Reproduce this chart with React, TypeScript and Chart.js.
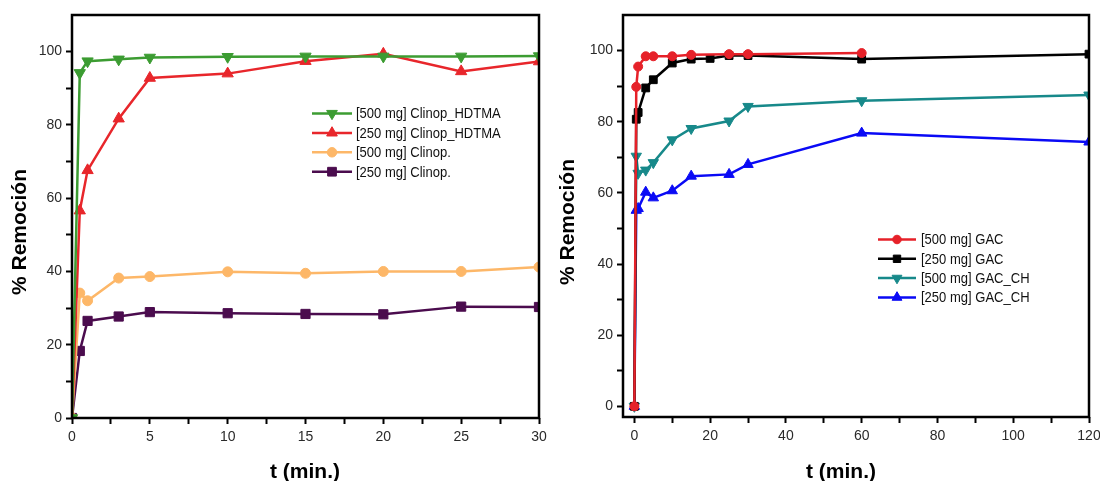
import React, { useEffect, useRef } from 'react';
import { Chart, registerables } from 'chart.js';

Chart.register(...registerables);

// ---------- Left panel data (Clinoptilolite) ----------
const leftTimes = [0, 0.5, 1, 3, 5, 10, 15, 20, 25, 30];
const clinopHdtma500 = [0, 94.2, 97.4, 97.9, 98.4, 98.6, 98.7, 98.7, 98.7, 98.8];
const clinopHdtma250 = [0, 56.6, 67.6, 81.7, 92.8, 94.0, 97.4, 99.4, 94.6, 97.3];
const clinop500 = [0, 34.1, 32.0, 38.2, 38.6, 39.9, 39.5, 40.0, 40.0, 41.2];
const clinop250 = [0, 18.3, 26.5, 27.7, 28.9, 28.6, 28.4, 28.3, 30.4, 30.3];

const leftXTicks = [0, 2.5, 5, 7.5, 10, 12.5, 15, 17.5, 20, 22.5, 25, 27.5, 30];
const leftXLabels = [0, 5, 10, 15, 20, 25, 30];

// ---------- Right panel data (GAC) ----------
const gac500Times = [0, 0.5, 1, 3, 5, 10, 15, 25, 30, 60];
const gac500 = [0, 89.8, 95.5, 98.4, 98.4, 98.4, 98.8, 99.0, 99.0, 99.3];
const gac250Times = [0, 0.5, 1, 3, 5, 10, 15, 20, 25, 30, 60, 120];
const gac250 = [0, 80.7, 82.6, 89.5, 91.8, 96.5, 97.6, 97.8, 98.6, 98.6, 97.6, 99.0];
const gacChTimes = [0, 0.5, 1, 3, 5, 10, 15, 25, 30, 60, 120];
const gacCh500 = [0, 70.3, 65.5, 66.4, 68.5, 74.9, 78.1, 80.2, 84.3, 85.9, 87.5];
const gacCh250 = [0, 55.1, 55.6, 60.2, 58.6, 60.6, 64.7, 65.2, 68.0, 76.8, 74.3];

const rightXTicks = [0, 10, 20, 30, 40, 50, 60, 70, 80, 90, 100, 110, 120];
const rightXLabels = [0, 20, 40, 60, 80, 100, 120];

const yTicks = [0, 10, 20, 30, 40, 50, 60, 70, 80, 90, 100];
const yLabels = [0, 20, 40, 60, 80, 100];

const yTitle = '% Remoción';
const xTitle = 't (min.)';

const FONT = '"Liberation Sans", Arial, Helvetica, sans-serif';

function pts(xs: number[], ys: number[]) {
  return xs.map((x, i) => ({ x, y: ys[i] }));
}

function drawMarker(ctx: CanvasRenderingContext2D, style: string, rot: number, x: number, y: number, r: number) {
  ctx.beginPath();
  if (style === 'circle') {
    ctx.arc(x, y, r, 0, Math.PI * 2);
  } else if (style === 'rect') {
    const s = r / Math.SQRT2;
    ctx.rect(x - s, y - s, 2 * s, 2 * s);
  } else {
    let a = (rot * Math.PI) / 180;
    ctx.moveTo(x + Math.sin(a) * r, y - Math.cos(a) * r);
    a += (2 * Math.PI) / 3;
    ctx.lineTo(x + Math.sin(a) * r, y - Math.cos(a) * r);
    a += (2 * Math.PI) / 3;
    ctx.lineTo(x + Math.sin(a) * r, y - Math.cos(a) * r);
    ctx.closePath();
  }
  ctx.fill();
  ctx.stroke();
}

const decorPlugin = {
  id: 'decor',
  afterDraw(chart: any, _args: any, opts: any) {
    const { ctx, chartArea: a } = chart;
    ctx.save();
    // frame
    ctx.lineWidth = 2.5;
    ctx.strokeStyle = '#000';
    ctx.strokeRect(a.left, a.top, a.right - a.left, a.bottom - a.top);
    // axis titles
    ctx.fillStyle = '#000';
    ctx.font = `bold 21px ${FONT}`;
    ctx.textAlign = 'center';
    ctx.textBaseline = 'alphabetic';
    ctx.fillText(opts.xTitle, opts.xTitleX, opts.xTitleY);
    ctx.save();
    ctx.translate(opts.yTitleX, opts.yTitleY);
    ctx.rotate(-Math.PI / 2);
    ctx.fillText(opts.yTitle, 0, 0);
    ctx.restore();
    // legend
    chart.data.datasets.forEach((ds: any, i: number) => {
      const y = opts.legendY + i * opts.legendRow;
      const x0 = opts.legendX;
      ctx.strokeStyle = ds.borderColor;
      ctx.fillStyle = ds.borderColor;
      ctx.lineWidth = 2.5;
      ctx.beginPath();
      ctx.moveTo(x0, y);
      ctx.lineTo(x0 + opts.legendLine, y);
      ctx.stroke();
      ctx.lineWidth = 1;
      drawMarker(ctx, ds.pointStyle, ds.pointRotation || 0, x0 + opts.legendLine / 2, y, ds.pointRadius * 0.95);
      ctx.fillStyle = '#111';
      ctx.font = `14px ${FONT}`;
      ctx.textAlign = 'left';
      ctx.textBaseline = 'middle';
      ctx.save();
      ctx.translate(x0 + opts.legendLine + opts.legendGap, y + 1);
      ctx.scale(0.93, 1);
      ctx.fillText(ds.label, 0, 0);
      ctx.restore();
    });
    ctx.restore();
  },
};

function makeDataset(label: string, data: any[], color: string, style: string, radius: number, rotation = 0) {
  return {
    label,
    data,
    borderColor: color,
    backgroundColor: color,
    pointBackgroundColor: color,
    pointBorderColor: color,
    pointBorderWidth: 1,
    pointStyle: style,
    pointRotation: rotation,
    pointRadius: radius,
    borderWidth: 2.5,
    tension: 0,
    fill: false,
  };
}

function makeConfig(p: any): any {
  return {
    type: 'line',
    data: { datasets: p.datasets },
    plugins: [decorPlugin],
    options: {
      animation: false,
      responsive: false,
      layout: { padding: { left: 0, right: p.padRight, top: p.padTop, bottom: 0 } },
      plugins: {
        legend: { display: false },
        tooltip: { enabled: false },
        decor: p.decor,
      },
      scales: {
        x: {
          type: 'linear',
          min: p.xMin,
          max: p.xMax,
          afterBuildTicks: (s: any) => {
            s.ticks = p.xTicks.map((v: number) => ({ value: v }));
          },
          afterFit: (s: any) => {
            s.height = p.xHeight;
            s.paddingLeft = 0;
            s.paddingRight = 0;
          },
          ticks: {
            autoSkip: false,
            maxRotation: 0,
            padding: 5,
            color: '#2a2a2a',
            font: { family: FONT, size: 14 },
            callback: (v: number) => (p.xLabels.includes(v) ? String(v) : ''),
          },
          grid: { drawOnChartArea: false, drawTicks: true, tickLength: 6, tickWidth: 2, tickColor: '#000' },
          border: { display: false },
        },
        y: {
          type: 'linear',
          min: p.yMin,
          max: 110,
          afterBuildTicks: (s: any) => {
            s.ticks = yTicks.map((v: number) => ({ value: v }));
          },
          afterFit: (s: any) => {
            s.width = p.yWidth;
            s.paddingTop = 0;
            s.paddingBottom = 0;
          },
          ticks: {
            autoSkip: false,
            padding: 4,
            color: '#2a2a2a',
            font: { family: FONT, size: 14 },
            callback: (v: number) => (yLabels.includes(v) ? String(v) : ''),
          },
          grid: { drawOnChartArea: false, drawTicks: true, tickLength: 6, tickWidth: 2, tickColor: '#000' },
          border: { display: false },
        },
      },
    },
  };
}

const leftConfig = () =>
  makeConfig({
    datasets: [
      makeDataset('[500 mg] Clinop_HDTMA', pts(leftTimes, clinopHdtma500), '#3c9c32', 'triangle', 6.5, 180),
      makeDataset('[250 mg] Clinop_HDTMA', pts(leftTimes, clinopHdtma250), '#e8262b', 'triangle', 6.5, 0),
      makeDataset('[500 mg] Clinop.', pts(leftTimes, clinop500), '#fdb768', 'circle', 5),
      makeDataset('[250 mg] Clinop.', pts(leftTimes, clinop250), '#4b0c4e', 'rect', 6.5),
    ],
    xMin: 0,
    xMax: 30,
    yMin: 0,
    xTicks: leftXTicks,
    xLabels: leftXLabels,
    padRight: 11,
    padTop: 15,
    xHeight: 63,
    yWidth: 72,
    decor: {
      xTitle,
      yTitle,
      xTitleX: 305,
      xTitleY: 478,
      yTitleX: 26,
      yTitleY: 232,
      legendX: 312,
      legendY: 113.5,
      legendRow: 19.4,
      legendLine: 40,
      legendGap: 4,
    },
  });

const rightConfig = () =>
  makeConfig({
    datasets: [
      makeDataset('[500 mg] GAC', pts(gac500Times, gac500), '#e62129', 'circle', 4.5),
      makeDataset('[250 mg] GAC', pts(gac250Times, gac250), '#000000', 'rect', 5.5),
      makeDataset('[500 mg] GAC_CH', pts(gacChTimes, gacCh500), '#17898a', 'triangle', 6, 180),
      makeDataset('[250 mg] GAC_CH', pts(gacChTimes, gacCh250), '#0a0af5', 'triangle', 6, 0),
    ],
    xMin: -3,
    xMax: 120,
    yMin: -3,
    xTicks: rightXTicks,
    xLabels: rightXLabels,
    padRight: 11,
    padTop: 15,
    xHeight: 64,
    yWidth: 73,
    decor: {
      xTitle,
      yTitle,
      xTitleX: 291,
      xTitleY: 478,
      yTitleX: 24,
      yTitleY: 222,
      legendX: 328,
      legendY: 239.5,
      legendRow: 19.3,
      legendLine: 38,
      legendGap: 5,
    },
  });

function ChartPanel({ make }: { make: () => any }) {
  const ref = useRef<HTMLCanvasElement | null>(null);
  useEffect(() => {
    if (!ref.current) return;
    const chart = new Chart(ref.current, make());
    return () => chart.destroy();
  }, [make]);
  return <canvas ref={ref} width={550} height={481} style={{ display: 'block', width: 550, height: 481 }} />;
}

export default function App() {
  return (
    <div
      style={{
        position: 'fixed',
        left: 0,
        top: 0,
        width: 1100,
        height: 481,
        display: 'flex',
        flexDirection: 'row',
        background: '#fff',
        overflow: 'hidden',
      }}
    >
      <ChartPanel make={leftConfig} />
      <ChartPanel make={rightConfig} />
    </div>
  );
}
